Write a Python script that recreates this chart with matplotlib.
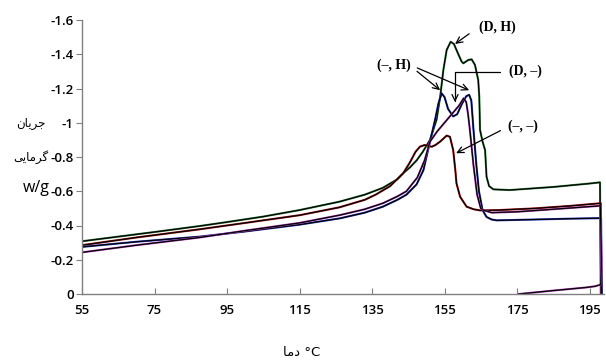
import matplotlib
matplotlib.use("Agg")
from matplotlib import pyplot as plt

# ---- data (temperature in C, heat flow in w/g) ----
t_dh = [55, 65, 75, 87.5, 95, 105, 115, 126, 133, 138, 142, 143.6, 145.5, 147.3, 149, 151, 152.8,
        153.8, 154.7, 155.6, 156.7, 157.6, 158.3, 159.7, 160.2, 161.6, 162.5, 163.4, 164.3, 164.6,
        164.8, 165.5, 166.2, 166.6, 167.3, 168.5, 173, 185, 195, 197.9, 198.0, 198.1]
v_dh = [-0.308, -0.335, -0.362, -0.397, -0.42, -0.452, -0.49, -0.539, -0.58, -0.62, -0.67, -0.705,
        -0.74, -0.78, -0.83, -0.9, -1.017, -1.15, -1.31, -1.425, -1.473, -1.46, -1.425, -1.358,
        -1.347, -1.367, -1.37, -1.338, -1.25, -1.15, -0.958, -0.89, -0.84, -0.685, -0.63, -0.611,
        -0.607, -0.625, -0.645, -0.652, -0.3, 0.0]

t_nn = [55, 70, 87.5, 100, 115, 126, 133, 136, 140, 143.6, 145.5, 147, 148.2, 149.5, 151.5, 152.5,
        153.8, 155.6, 156.5, 157.4, 158.0, 158.3, 159.3, 161.1, 163, 164.8, 170, 180, 190, 198.1,
        198.2, 198.3]
v_nn = [-0.285, -0.33, -0.378, -0.415, -0.46, -0.506, -0.55, -0.58, -0.63, -0.705, -0.77, -0.83,
        -0.86, -0.87, -0.86, -0.87, -0.89, -0.925, -0.918, -0.84, -0.72, -0.647, -0.568, -0.51,
        -0.495, -0.488, -0.49, -0.50, -0.515, -0.53, -0.2, 0.0]

t_nh = [55, 70, 87.5, 100, 115, 126.2, 133, 138, 142, 144.5, 147.3, 149.2, 151, 152.4, 153.3,
        154.2, 155, 156, 157.4, 158.5, 159.8, 161, 161.8, 162.4, 163, 163.8, 164.5, 165.5, 166.6,
        168, 169.4, 180, 190, 198.2, 198.3, 198.4]
v_nh = [-0.275, -0.305, -0.335, -0.365, -0.405, -0.442, -0.475, -0.51, -0.55, -0.58, -0.64, -0.724,
        -0.89, -1.017, -1.11, -1.172, -1.15, -1.08, -1.037, -1.05, -1.11, -1.155, -1.163, -1.13,
        -0.958, -0.75, -0.6, -0.49, -0.45, -0.435, -0.43, -0.435, -0.44, -0.443, -0.2, 0.0]

t_dn = [55, 70, 87.5, 100, 115, 126.2, 133, 138, 142, 144.5, 147.5, 149.5, 151, 153, 155, 157,
        159, 160.3, 161, 161.5, 162, 163, 164, 165, 165.7, 168, 175, 185, 198.0, 198.3, 198.1,
        196.5, 194, 185, 175.5]
v_dn = [-0.243, -0.285, -0.33, -0.37, -0.415, -0.461, -0.495, -0.53, -0.57, -0.6, -0.68, -0.78,
        -0.89, -0.95, -1.0, -1.05, -1.1, -1.143, -1.12, -1.05, -0.958, -0.75, -0.58, -0.5, -0.49,
        -0.475, -0.48, -0.495, -0.515, -0.2, -0.055, -0.045, -0.038, -0.02, 0.0]

series = [
    (t_dh, v_dh, "#3c8a46"),
    (t_nn, v_nn, "#b82020"),
    (t_nh, v_nh, "#3040c8"),
    (t_dn, v_dn, "#b848c0"),
]

x_ticks = [55, 75, 95, 115, 135, 155, 175, 195]
y_ticks = [0, -0.2, -0.4, -0.6, -0.8, -1.0, -1.2, -1.4, -1.6]
y_labels = ["0", "-0.2", "-0.4", "-0.6", "-0.8", "-1", "-1.2", "-1.4", "-1.6"]

# Persian labels, pre-shaped into presentation forms in visual order
lbl_flow = "\ufee5\ufe8e\ufef3\ufeae\ufe9f"          # جریان
lbl_heat = "\ufef0\ufef3\ufe8e\ufee3\ufeae\ufb94"    # گرمایی
lbl_temp = "\ufe8e\ufee3\ufea9 \u00b0C"              # دما °C

fig = plt.figure(figsize=(6.06, 3.61), dpi=100)
ax = fig.add_axes([82 / 606, 67 / 361, 522 / 606, 274 / 361])

for t, v, colour in series:
    ax.plot(t, v, color=colour, lw=1.5, solid_joinstyle="round")
    ax.plot(t, v, color="black", lw=0.9, solid_joinstyle="round")

ax.set_xlim(55, 199)
ax.set_ylim(0, -1.6)
ax.set_xticks(x_ticks)
ax.set_yticks(y_ticks)
ax.set_yticklabels(y_labels)

for side in ["top", "right"]:
    ax.spines[side].set_visible(False)
for side in ["left", "bottom"]:
    ax.spines[side].set_color("#808080")
    ax.spines[side].set_linewidth(1.0)

tick_font = {"family": "Open Sans", "size": 9.5, "weight": "semibold"}
ax.tick_params(axis="x", direction="in", length=4, color="#808080", pad=7)
ax.tick_params(axis="y", direction="out", length=4, color="#808080", pad=2)
for lab in ax.get_xticklabels() + ax.get_yticklabels():
    lab.set_fontproperties(tick_font)

fig.text(31 / 606, 1 - 123 / 361, lbl_flow, ha="center", va="center", fontsize=8.5,
         family=["DejaVu Sans"])
fig.text(31 / 606, 1 - 157 / 361, lbl_heat, ha="center", va="center", fontsize=8.5,
         family=["DejaVu Sans"])
fig.text(36 / 606, 1 - 188 / 361, "w/g", ha="center", va="center", fontsize=11.5,
         family=["Open Sans"])
fig.text(302 / 606, 1 - 352 / 361, lbl_temp, ha="center", va="center", fontsize=9.5,
         family=["DejaVu Sans"])

# Annotations
note_font = {"family": "Liberation Serif", "size": 10, "weight": "bold"}
arrow = dict(arrowstyle="->,head_length=0.45,head_width=0.22", color="black", lw=0.9,
             shrinkA=2, shrinkB=0)

ax.annotate("(D, H)", xy=(157.9, -1.46), xytext=(169.5, -1.56), ha="center", va="center",
            fontproperties=note_font, arrowprops=dict(arrow, relpos=(0, 0.5), shrinkA=6))
ax.annotate("(\u2013, H)", xy=(153.8, -1.19), xytext=(141.1, -1.337), ha="center", va="center",
            fontproperties=note_font, arrowprops=dict(arrow, relpos=(1, 0.4), shrinkA=3))
ax.annotate("", xy=(161.8, -1.19), xytext=(147.5, -1.32), arrowprops=dict(arrow, shrinkA=0))
ax.annotate("(D, \u2013)", xy=(157.9, -1.12), xytext=(177.2, -1.298), ha="center", va="center",
            fontproperties=note_font,
            arrowprops=dict(arrow, relpos=(0, 0.5), shrinkA=4,
                            connectionstyle="angle,angleA=0,angleB=90,rad=0"))
ax.annotate("(\u2013, \u2013)", xy=(158.2, -0.822), xytext=(176.7, -0.977), ha="center",
            va="center", fontproperties=note_font,
            arrowprops=dict(arrow, relpos=(0, 0.5), shrinkA=4))

fig.savefig("out.png", dpi=100)
